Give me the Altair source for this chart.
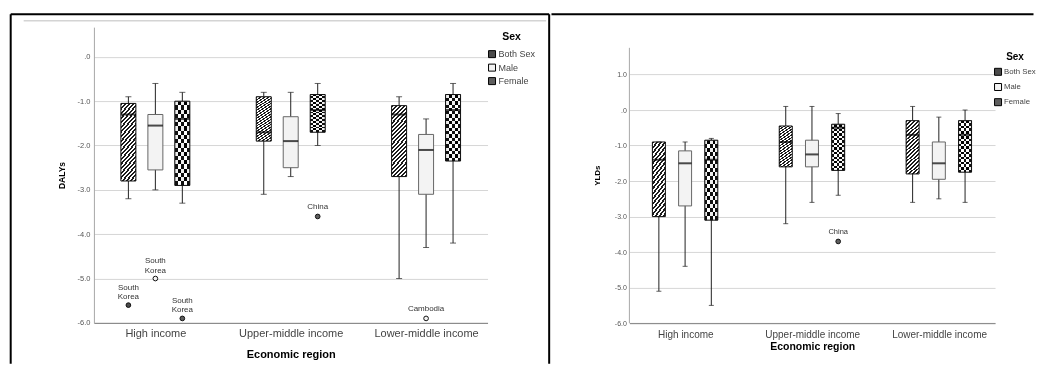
import altair as alt
import pandas as pd

regions = ["High income", "Upper-middle income", "Lower-middle income"]
sexes = ["Both Sex", "Male", "Female"]

# DALYs box statistics, region-major, sexes in the order above
dalys_low = [-3.2, -3.0, -3.3, -3.1, -2.7, -2.0, -5.0, -4.3, -4.2]
dalys_q1 = [-2.8, -2.55, -2.9, -1.9, -2.5, -1.7, -2.7, -3.1, -2.35]
dalys_median = [-1.3, -1.55, -1.4, -1.7, -1.9, -1.2, -1.3, -2.1, -1.2]
dalys_q3 = [-1.05, -1.3, -1.0, -0.9, -1.35, -0.85, -1.1, -1.75, -0.85]
dalys_high = [-0.9, -0.6, -0.8, -0.8, -0.8, -0.6, -0.9, -1.4, -0.6]

dalys_out_region = ["High income", "High income", "High income", "Upper-middle income", "Lower-middle income"]
dalys_out_sex = ["Both Sex", "Male", "Female", "Female", "Male"]
dalys_out_value = [-5.6, -5.0, -5.9, -3.6, -5.9]
dalys_out_label = ["South\nKorea", "South\nKorea", "South\nKorea", "China", "Cambodia"]

# YLDs box statistics
ylds_low = [-5.1, -4.4, -5.5, -3.2, -2.6, -2.4, -2.6, -2.5, -2.6]
ylds_q1 = [-3.0, -2.7, -3.1, -1.6, -1.6, -1.7, -1.8, -1.95, -1.75]
ylds_median = [-1.4, -1.5, -1.4, -0.9, -1.25, -0.5, -0.7, -1.5, -0.7]
ylds_q3 = [-0.9, -1.15, -0.85, -0.45, -0.85, -0.4, -0.3, -0.9, -0.3]
ylds_high = [-0.9, -0.9, -0.8, 0.1, 0.1, -0.1, 0.1, -0.2, 0.0]

ylds_out_region = ["Upper-middle income"]
ylds_out_sex = ["Female"]
ylds_out_value = [-3.7]
ylds_out_label = ["China"]

fill_colors = ["#4a4a4a", "#f3f3f3", "#5e5e5e"]


def stripe_stops(step, c1, c2, limit=1.0):
    stops = []
    t = 0.0
    while t < limit - 1e-9:
        b = min(t + step / 2.0, 1.0)
        c = min(t + step, 1.0)
        stops += [
            alt.GradientStop(offset=round(t, 5), color=c1),
            alt.GradientStop(offset=round(b, 5), color=c1),
            alt.GradientStop(offset=round(b, 5), color=c2),
            alt.GradientStop(offset=round(c, 5), color=c2),
        ]
        t += step
    return stops


def build_panel(p):
    box = pd.DataFrame({
        "region": [r for r in regions for s in sexes],
        "sex": [s for r in regions for s in sexes],
        "low": p["low"], "q1": p["q1"], "median": p["median"],
        "q3": p["q3"], "high": p["high"],
    })
    out = pd.DataFrame({"region": p["out_region"], "sex": p["out_sex"],
                        "value": p["out_value"], "label": p["out_label"]})
    one = pd.DataFrame({"k": [0]})
    W, H, bw = p["W"], p["H"], p["bw"]

    xaxis = alt.Axis(title="Economic region", labelAngle=0, ticks=False,
                     domainColor="#808080", labelFontSize=p["xlab"], labelColor="#444",
                     labelPadding=p["xlabpad"], titleFontSize=p["xtitle"],
                     titleFontWeight="bold", titleColor="black",
                     titlePadding=p["xtitlepad"], grid=False)
    yaxis = alt.Axis(title=p["ytitle"], values=p["yticks"],
                     labelExpr="datum.value == 0 ? '.0' : (datum.value < 0 ? '-' : '') + format(abs(datum.value), '.1f')",
                     ticks=False, grid=True, gridColor="#d6d6d6", domain=p["ydomainline"],
                     domainColor="#a8a8a8",
                     labelFontSize=p["ylab"], labelColor="#555", labelPadding=p["ylabpad"],
                     titleFontSize=p["ytitlesize"], titleFontWeight="bold", titleColor="black",
                     titlePadding=p["ytitlepad"])
    xs = alt.Scale(type="point", domain=regions, padding=p["xpad"])
    osc = alt.Scale(type="point", domain=sexes, range=p["offs"], padding=0)
    ys = alt.Scale(domain=p["ydom"], nice=False, zero=False)
    fs = alt.Scale(domain=sexes, range=fill_colors)
    leg = alt.Legend(orient="none", legendX=p["legx"], legendY=p["legy"], direction="vertical",
                     title="Sex", titleFontSize=p["legtitle"], titleFontWeight="bold",
                     titleColor="black", titleAnchor="middle", titlePadding=p["legtpad"],
                     labelFontSize=p["leglab"], labelColor="#444", symbolType="square",
                     symbolSize=49, symbolStrokeColor="black", symbolStrokeWidth=1,
                     rowPadding=p["legrow"], labelOffset=2, padding=0)

    X = alt.X("region:N", scale=xs, axis=xaxis)
    XO = alt.XOffset("sex:N", scale=osc)

    def Y(f):
        return alt.Y(f"{f}:Q", scale=ys, axis=yaxis)

    hatch = alt.LinearGradient(gradient="linear", x1=0, y1=0, x2=1, y2=4.5,
                               stops=stripe_stops(p["hatch_step"], "#1c1c1c", "#ffffff", 0.32))
    check_v = alt.LinearGradient(gradient="linear", x1=0, y1=0, x2=1, y2=0,
                                 stops=stripe_stops(0.4, "#111111", "#ffffff"))
    check_h = alt.LinearGradient(gradient="linear", x1=0, y1=0, x2=0, y2=1,
                                 stops=stripe_stops(0.1, "#ffffff", "#000000"))

    layers = []
    if p["axisline_top"] is not None:
        layers.append(alt.Chart(one).mark_rule(color="#a8a8a8", strokeWidth=1).encode(
            x=alt.value(0), y=alt.Y(datum=p["axisline_top"], scale=ys, axis=yaxis),
            y2=alt.Y2(datum=p["ydom"][0])))

    whisk = alt.Chart(box).mark_rule(color="#222", strokeWidth=1).encode(X, XO, Y("low"), alt.Y2("high"))
    base = alt.Chart(box).mark_bar(size=bw, strokeWidth=0).encode(
        X, XO, Y("q1"), alt.Y2("q3"), fill=alt.Fill("sex:N", scale=fs, legend=leg))
    hatch_l = alt.Chart(box).transform_filter(alt.datum.sex == "Both Sex").mark_bar(
        size=bw, fill=hatch, strokeWidth=0).encode(X, XO, Y("q1"), alt.Y2("q3"))
    cv_l = alt.Chart(box).transform_filter(alt.datum.sex == "Female").mark_bar(
        size=bw, fill=check_v, strokeWidth=0).encode(X, XO, Y("q1"), alt.Y2("q3"))
    ch_l = alt.Chart(box).transform_filter(alt.datum.sex == "Female").mark_bar(
        size=bw, fill=check_h, strokeWidth=0, blend="difference").encode(X, XO, Y("q1"), alt.Y2("q3"))
    outline = alt.Chart(box).mark_bar(size=bw, fillOpacity=0, strokeWidth=1).encode(
        X, XO, Y("q1"), alt.Y2("q3"),
        stroke=alt.condition(alt.datum.sex == "Male", alt.value("#666666"), alt.value("#111111")))
    med = alt.Chart(box).mark_tick(size=bw, thickness=2, color="black").encode(X, XO, Y("median"))
    cap_lo = alt.Chart(box).mark_tick(size=p["cap"], thickness=1, color="#222").encode(X, XO, Y("low"))
    cap_hi = alt.Chart(box).mark_tick(size=p["cap"], thickness=1, color="#222").encode(X, XO, Y("high"))
    pts = alt.Chart(out).mark_point(shape="circle", filled=True, size=22, stroke="#111",
                                    strokeWidth=1, opacity=1, fillOpacity=1).encode(
        X, XO, Y("value"), fill=alt.Fill("sex:N", scale=fs, legend=leg))
    lh = p["outfont"] + 1.5
    lbl2 = alt.Chart(out).transform_filter("indexof(datum.label, '\\n') >= 0").mark_text(
        fontSize=p["outfont"], lineBreak="\n", baseline="bottom", dy=-4 - lh, color="#333",
        lineHeight=lh).encode(X, XO, Y("value"), text="label:N")
    lbl1 = alt.Chart(out).transform_filter("indexof(datum.label, '\\n') < 0").mark_text(
        fontSize=p["outfont"], baseline="bottom", dy=-5, color="#333").encode(
        X, XO, Y("value"), text="label:N")

    deco = []
    for (x1, x2, y1, y2, col, sw) in p["deco"]:
        if y2 is None:
            enc = dict(x=alt.value(x1), x2=alt.value(x2), y=alt.value(y1))
        else:
            enc = dict(x=alt.value(x1), y=alt.value(y1), y2=alt.value(y2))
        deco.append(alt.Chart(one).mark_rule(color=col, strokeWidth=sw).encode(**enc))

    layers += [whisk, base, hatch_l, cv_l, ch_l, outline, med, cap_lo, cap_hi, pts, lbl2, lbl1]
    return alt.layer(*layers, *deco).properties(width=W, height=H)


left = build_panel(dict(
    low=dalys_low, q1=dalys_q1, median=dalys_median, q3=dalys_q3, high=dalys_high,
    out_region=dalys_out_region, out_sex=dalys_out_sex, out_value=dalys_out_value,
    out_label=dalys_out_label,
    W=394, H=296, bw=15, cap=6, xpad=0.454, offs=[-27, 27], ydom=[-6, 0.67],
    ydomainline=True, axisline_top=None,
    yticks=[-6, -5, -4, -3, -2, -1, 0], ytitle="DALYs",
    xlab=11, xlabpad=5, xtitle=11, xtitlepad=10,
    ylab=7.5, ylabpad=4, ytitlesize=8.5, ytitlepad=11,
    legx=394, legy=5, legtitle=10.5, legtpad=7, leglab=9, legrow=2.5,
    hatch_step=4.0 / (15 * 21.25), outfont=8,
    deco=[(-83.3, 455.7, -13, None, "black", 2),
          (-83.3, None, -13, 337, "black", 2),
          (455.7, None, -13, 337, "black", 2),
          (-70.3, 452.7, -6.3, None, "#d4d4d4", 1.5)],
))

right = build_panel(dict(
    low=ylds_low, q1=ylds_q1, median=ylds_median, q3=ylds_q3, high=ylds_high,
    out_region=ylds_out_region, out_sex=ylds_out_sex, out_value=ylds_out_value,
    out_label=ylds_out_label,
    W=366, H=296.3, bw=13, cap=5, xpad=0.441, offs=[-26.5, 26], ydom=[-6, 2.332],
    ydomainline=False, axisline_top=1.75,
    yticks=[-6, -5, -4, -3, -2, -1, 0, 1], ytitle="YLDs",
    xlab=10, xlabpad=6, xtitle=10.5, xtitlepad=2,
    ylab=7, ylabpad=3, ytitlesize=8, ytitlepad=13,
    legx=365, legy=24.7, legtitle=10, legtpad=6, leglab=7.8, legrow=3.2,
    hatch_step=4.0 / (13 * 21.25), outfont=7.5,
    deco=[(-78, 404.5, -13, None, "black", 2)],
))

chart = alt.hconcat(left, right, spacing=0).resolve_scale(
    x="independent", y="independent", fill="independent", xOffset="independent"
).resolve_legend(fill="independent").properties(
    padding={"left": 1, "top": 5, "right": 0, "bottom": 0}
).configure(font="Arial").configure_view(stroke="transparent", strokeWidth=0)

chart.save("out.html", embed_options={"renderer": "svg", "actions": False})
